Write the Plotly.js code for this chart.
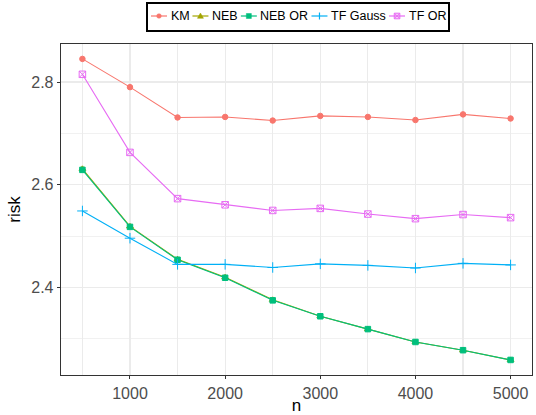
<!DOCTYPE html>
<html>
<head>
<meta charset="utf-8">
<script src="https://cdn.plot.ly/plotly-3.0.1.min.js"></script>
<style>html,body{margin:0;padding:0;background:#fff}#chart{width:536px;height:415px}</style>
</head>
<body>
<div id="chart"></div>
<script>
// ---- data ----
var n = [500, 1000, 1500, 2000, 2500, 3000, 3500, 4000, 4500, 5000];
var KM = [2.845, 2.790, 2.731, 2.732, 2.725, 2.734, 2.732, 2.726, 2.737, 2.729];
var NEB = [2.631, 2.519, 2.455, 2.420, 2.376, 2.344, 2.319, 2.294, 2.278, 2.259];
var NEB_OR = [2.629, 2.518, 2.454, 2.419, 2.375, 2.344, 2.319, 2.294, 2.278, 2.259];
var TF_Gauss = [2.549, 2.496, 2.445, 2.445, 2.439, 2.446, 2.443, 2.438, 2.447, 2.444];
var TF_OR = [2.815, 2.663, 2.573, 2.561, 2.550, 2.554, 2.543, 2.534, 2.542, 2.536];
var seriesNames = ["KM", "NEB", "NEB OR", "TF Gauss", "TF OR"];
var seriesValues = [KM, NEB, NEB_OR, TF_Gauss, TF_OR];

// ---- styles ----
var colors = ["#F8766D", "#A3A500", "#00BF7D", "#00B0F6", "#E76BF3"];
var symbols = ["circle", "triangle-up", "square", "cross-thin-open", "square-x-open"];
var sizes = [5.5, 6, 5.5, 7.5, 6.5];
var FONT = "Liberation Sans, Arial, sans-serif";

var W = 536, H = 415;
var M = {l: 61, r: 4, t: 44, b: 40};
var PW = W - M.l - M.r, PH = H - M.t - M.b;
function px(x) { return (x - M.l) / PW; }
function py(y) { return (H - M.b - y) / PH; }

var traces = seriesNames.map(function (name, i) {
  return {
    type: "scatter", mode: "lines+markers", name: name,
    x: n, y: seriesValues[i],
    line: {color: colors[i], width: 1.1},
    marker: {color: colors[i], symbol: symbols[i], size: sizes[i], line: {color: colors[i], width: 1}},
    showlegend: false
  };
});

// ---- manual legend (ggplot style, compact keys) ----
var shapes = [], annotations = [];
var legFont = 12.5;
var ctx = document.createElement("canvas").getContext("2d");
ctx.font = legFont + "px 'Liberation Sans'";
var lx = 151, ly = 16, keyW = 16, gapT = 2.5, gapN = 4.2;
shapes.push({type: "rect", xref: "paper", yref: "paper", x0: px(147), x1: px(449), y0: py(31), y1: py(3),
  line: {color: "#000", width: 2}, fillcolor: "rgba(255,255,255,1)", layer: "above"});
seriesNames.forEach(function (name, i) {
  var c = colors[i], cx = lx + keyW / 2;
  shapes.push({type: "line", xref: "paper", yref: "paper", x0: px(lx), x1: px(lx + keyW), y0: py(ly), y1: py(ly), line: {color: c, width: 1.2}});
  if (i === 0) {
    shapes.push({type: "circle", xref: "paper", yref: "paper", x0: px(cx - 2.3), x1: px(cx + 2.3), y0: py(ly + 2.3), y1: py(ly - 2.3), fillcolor: c, line: {color: c, width: 0.5}});
  } else if (i === 1) {
    shapes.push({type: "path", xref: "paper", yref: "paper",
      path: "M " + px(cx - 3) + " " + py(ly + 2.3) + " L " + px(cx + 3) + " " + py(ly + 2.3) + " L " + px(cx) + " " + py(ly - 3) + " Z",
      fillcolor: c, line: {color: c, width: 0.5}});
  } else if (i === 2) {
    shapes.push({type: "rect", xref: "paper", yref: "paper", x0: px(cx - 2.5), x1: px(cx + 2.5), y0: py(ly + 2.5), y1: py(ly - 2.5), fillcolor: c, line: {color: c, width: 0.5}});
  } else if (i === 3) {
    shapes.push({type: "line", xref: "paper", yref: "paper", x0: px(cx), x1: px(cx), y0: py(ly + 3.5), y1: py(ly - 3.5), line: {color: c, width: 1.2}});
  } else {
    shapes.push({type: "rect", xref: "paper", yref: "paper", x0: px(cx - 2.8), x1: px(cx + 2.8), y0: py(ly + 2.8), y1: py(ly - 2.8), fillcolor: "rgba(231,107,243,0.35)", line: {color: c, width: 1}});
    shapes.push({type: "line", xref: "paper", yref: "paper", x0: px(cx - 2.8), x1: px(cx + 2.8), y0: py(ly + 2.8), y1: py(ly - 2.8), line: {color: c, width: 0.8}});
    shapes.push({type: "line", xref: "paper", yref: "paper", x0: px(cx - 2.8), x1: px(cx + 2.8), y0: py(ly - 2.8), y1: py(ly + 2.8), line: {color: c, width: 0.8}});
  }
  var tx = lx + keyW + gapT;
  annotations.push({xref: "paper", yref: "paper", x: px(tx), y: py(ly), xanchor: "left", yanchor: "middle",
    text: name, showarrow: false, font: {family: FONT, size: legFont, color: "#000"}, xshift: 0, borderpad: 0});
  var tw = ctx.measureText(name).width;
  lx = tx + tw + gapN;
});

var layout = {
  width: W, height: H,
  margin: M,
  paper_bgcolor: "#fff", plot_bgcolor: "#fff",
  font: {family: FONT},
  showlegend: false,
  xaxis: {
    range: [275, 5225], tickmode: "linear", tick0: 1000, dtick: 1000,
    showgrid: true, gridcolor: "#EBEBEB", gridwidth: 1.1,
    minor: {tick0: 500, dtick: 1000, showgrid: true, gridcolor: "#EBEBEB", gridwidth: 1.1, ticks: ""},
    ticks: "outside", ticklen: 3, tickcolor: "#333333", tickwidth: 1,
    tickfont: {family: FONT, size: 16, color: "#4D4D4D"},
    showline: true, mirror: true, linecolor: "#333333", linewidth: 1.3,
    zeroline: false,
    title: {text: "n", font: {family: FONT, size: 17, color: "#000"}, standoff: 0},
    automargin: false
  },
  yaxis: {
    range: [2.2297, 2.874], tickmode: "linear", tick0: 2.4, dtick: 0.2, tickformat: ".1f",
    showgrid: true, gridcolor: "#EBEBEB", gridwidth: 1.3,
    minor: {tick0: 2.3, dtick: 0.2, showgrid: true, gridcolor: "#EBEBEB", gridwidth: 0.7, ticks: ""},
    ticks: "outside", ticklen: 3, tickcolor: "#333333", tickwidth: 1,
    tickfont: {family: FONT, size: 16, color: "#4D4D4D"},
    showline: true, mirror: true, linecolor: "#333333", linewidth: 1.3,
    zeroline: false,
    title: {text: "risk", font: {family: FONT, size: 17, color: "#000"}, standoff: 6},
    automargin: false
  },
  shapes: shapes,
  annotations: annotations
};

Plotly.newPlot("chart", traces, layout, {displayModeBar: false, staticPlot: true});
</script>
</body>
</html>
